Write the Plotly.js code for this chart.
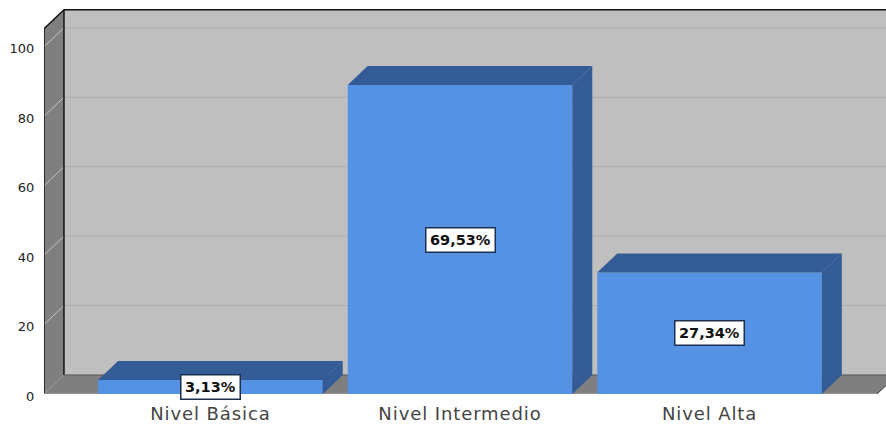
<!DOCTYPE html>
<html>
<head>
<meta charset="utf-8">
<script src="https://cdn.plot.ly/plotly-3.0.1.min.js"></script>
<style>html,body{margin:0;padding:0;background:#fff}#chart{width:886px;height:426px}
.xtick text{letter-spacing:0.9px}</style>
</head>
<body>
<div id="chart"></div>
<script>
const categories = ["Nivel Básica", "Nivel Intermedio", "Nivel Alta"];
const counts = [4, 89, 35];
const percentLabels = ["3,13%", "69,53%", "27,34%"];
const yTicks = [0, 20, 40, 60, 80, 100];

// Pseudo-3D geometry, in axis units
const xPos = categories.map((_, i) => i);
const barW = 0.9;
const depthX = 0.08, depthY = 5.48;
const xMin = -0.667, xMax = 2.707, xFront = 2.671;
const yMax = 113.5, wallTop = 105.2;

const poly = pts => "M" + pts.map(p => p[0] + "," + p[1]).join(" L") + " Z";
const line = (a, b, color, width) => ({type:"line", xref:"x", yref:"y", layer:"below",
  x0:a[0], y0:a[1], x1:b[0], y1:b[1], line:{color, width}});
const area = (pts, color) => ({type:"path", xref:"x", yref:"y", layer:"below",
  path: poly(pts), fillcolor:color, line:{width:0}});

const bl = xMin + depthX, br = xFront + depthX;
const shapes = [
  area([[bl,depthY],[br,depthY],[br,wallTop+depthY],[bl,wallTop+depthY]], "#bfbfbf"),
  area([[xMin,0],[bl,depthY],[bl,wallTop+depthY],[xMin,wallTop]], "#7f7f7f"),
  area([[xMin,0],[xFront,0],[br,depthY],[bl,depthY]], "#7f7f7f"),
];
yTicks.filter(t => t > 0).forEach(t => {
  shapes.push(line([bl,t+depthY],[br,t+depthY],"#adadad",1));
  shapes.push(line([xMin,t],[bl,t+depthY],"#c4c4c4",1));
});
shapes.push(line([bl,depthY],[bl,wallTop+depthY],"#111",1.5));
shapes.push(line([bl,wallTop+depthY],[br,wallTop+depthY],"#111",1.5));
shapes.push(line([xMin,0],[xMin,wallTop],"#111",1.5));
shapes.push(line([xMin,wallTop],[bl,wallTop+depthY],"#111",1.5));
shapes.push(line([bl,depthY],[br,depthY],"#555",1));
shapes.push(line([xMin,0],[xFront,0],"#9a9a9a",1.5));
shapes.push(line([xFront,0],[br,depthY],"#333",1));

const traces = [{
  type:"bar", x:xPos, y:counts, width:barW,
  marker:{color:"#5592e4", line:{width:0}}, hoverinfo:"skip"
}];
const dark = "#335b95";
counts.forEach((v,i) => {
  const l = xPos[i]-barW/2, r = xPos[i]+barW/2;
  const topFace = [[l,v],[l+depthX,v+depthY],[r+depthX,v+depthY],[r,v],[l,v]];
  const sideFace = [[r,0],[r+depthX,depthY],[r+depthX,v+depthY],[r,v],[r,0]];
  [topFace, sideFace].forEach(f => traces.push({
    type:"scatter", mode:"lines", x:f.map(p=>p[0]), y:f.map(p=>p[1]),
    fill:"toself", fillcolor:dark, line:{width:0, color:dark}, hoverinfo:"skip"
  }));
});

const annotations = counts.map((v,i) => ({
  x:xPos[i], y:v/2, xref:"x", yref:"y", text:"<b>"+percentLabels[i]+"</b>", showarrow:false,
  bgcolor:"#fff", bordercolor:"#1d2f50", borderwidth:1.5, borderpad:3.5,
  font:{family:"DejaVu Sans", size:14.5, color:"#111"}
}));

Plotly.newPlot("chart", traces, {
  width:886, height:426, showlegend:false,
  margin:{l:44, r:0, t:0, b:32},
  paper_bgcolor:"#fff", plot_bgcolor:"#fff",
  xaxis:{range:[xMin,xMax], tickmode:"array", tickvals:xPos, ticktext:categories,
    showgrid:false, zeroline:false, showline:false, ticks:"outside", ticklen:3, tickcolor:"rgba(0,0,0,0)",
    tickfont:{family:"DejaVu Sans", size:18, color:"#444"}},
  yaxis:{range:[0,yMax], tickmode:"array", tickvals:yTicks, ticklabelshift:2,
    showgrid:false, zeroline:false, showline:false, ticks:"outside", ticklen:6, tickcolor:"rgba(0,0,0,0)",
    tickfont:{family:"DejaVu Sans", size:13, color:"#222"}},
  shapes, annotations
}, {displayModeBar:false, staticPlot:true});
</script>
</body>
</html>
